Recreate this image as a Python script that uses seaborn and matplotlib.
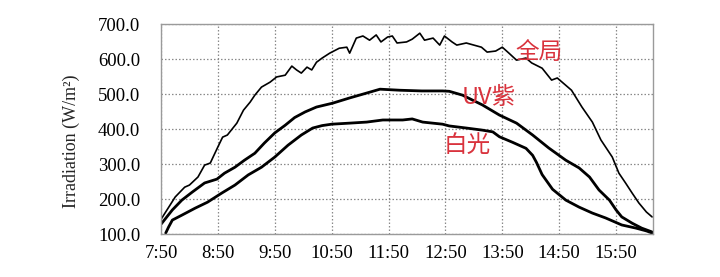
import matplotlib
matplotlib.use('Agg')
import matplotlib.pyplot as plt
import seaborn as sns

# ---- data (minutes after 7:50, irradiation W/m2) ----
full_t = [0, 15, 25, 30, 39, 46, 52, 60, 65, 70, 80, 87, 94, 99, 106, 115, 122, 131, 138, 143, 148,
          154, 159, 164, 170, 178, 188, 196, 199, 206, 213, 220, 227, 232, 239, 244, 249, 259, 265,
          273, 278, 287, 294, 299, 307, 312, 322, 338, 344, 353, 360, 367, 375, 385, 391, 402, 412,
          418, 433, 444, 455, 464, 476, 483, 490, 497, 504, 512, 518]
full_v = [142, 206, 234, 240, 263, 297, 303, 349, 377, 383, 417, 454, 477, 497, 520, 534, 549, 554,
          580, 569, 560, 577, 569, 591, 603, 617, 631, 634, 617, 660, 666, 654, 669, 649, 663, 666,
          646, 649, 657, 674, 654, 660, 640, 666, 649, 640, 646, 634, 620, 623, 634, 617, 597, 603,
          589, 574, 540, 546, 511, 463, 420, 369, 320, 274, 246, 217, 189, 163, 149]

uv_t = [0, 12, 22, 33, 46, 59, 67, 78, 88, 99, 109, 120, 131, 141, 152, 164, 181, 199, 217, 231,
        252, 275, 297, 304, 318, 339, 357, 375, 392, 409, 427, 441, 452, 462, 473, 480, 486, 497,
        507, 518]
uv_v = [128, 169, 197, 220, 246, 257, 274, 291, 311, 331, 360, 389, 411, 433, 449, 463, 474, 489,
        503, 514, 511, 509, 509, 508, 497, 469, 440, 417, 383, 346, 311, 289, 263, 226, 197, 169,
        149, 131, 117, 106]

white_t = [5, 8, 12, 22, 36, 49, 64, 78, 92, 106, 120, 134, 148, 160, 170, 180, 199, 217, 234, 255,
           265, 276, 297, 304, 322, 339, 350, 357, 371, 385, 392, 396, 402, 413, 427, 441, 455, 469,
           486, 501, 512, 518]
white_v = [103, 120, 140, 154, 174, 191, 217, 240, 269, 291, 320, 354, 383, 403, 410, 414, 417, 420,
           426, 426, 429, 420, 414, 409, 403, 397, 392, 378, 362, 345, 325, 305, 270, 228, 197, 177,
           160, 146, 126, 117, 109, 103]

x_ticks = [0, 60, 120, 180, 240, 300, 360, 420, 480]
x_labels = ["7:50", "8:50", "9:50", "10:50", "11:50", "12:50", "13:50", "14:50", "15:50"]
y_ticks = [100, 200, 300, 400, 500, 600, 700]
y_labels = ["100.0", "200.0", "300.0", "400.0", "500.0", "600.0", "700.0"]

series_names = ["全局", "UV紫", "白光"]
label_pos = [(399, 618), (346, 491), (323, 352)]

sns.set_theme(style='white')
plt.rcParams['font.family'] = ['Liberation Serif', 'DejaVu Serif']

fig, ax = plt.subplots(figsize=(7.2, 2.77), dpi=100)
fig.subplots_adjust(left=0.2236, right=0.907, bottom=0.155, top=0.913)

sns.lineplot(x=full_t, y=full_v, ax=ax, color='black', lw=1.2, estimator=None, sort=False)
sns.lineplot(x=uv_t, y=uv_v, ax=ax, color='black', lw=2.0, estimator=None, sort=False)
sns.lineplot(x=white_t, y=white_v, ax=ax, color='black', lw=2.0, estimator=None, sort=False)

ax.set_xlim(0, 519)
ax.set_ylim(100, 700)
ax.set_xticks(x_ticks)
ax.set_xticklabels(x_labels)
ax.set_yticks(y_ticks)
ax.set_yticklabels(y_labels)
ax.tick_params(axis='both', length=0, labelsize=13.5, colors='black')
ax.tick_params(axis='y', pad=15)
ax.tick_params(axis='x', pad=8)

ax.grid(True, linestyle=(0, (1.2, 1.6)), color='#8a8a8a', lw=0.9)
for sp in ax.spines.values():
    sp.set_color('#9a9a9a')
    sp.set_linewidth(1.0)

ax.set_ylabel('Irradiation (W/m²)', fontsize=13)
ax.yaxis.set_label_coords(-0.165, 0.443)

for name, (tx, ty) in zip(series_names, label_pos):
    ax.text(tx, ty, name, color='#d9333d', fontsize=17, ha='center', va='center',
            family=['Noto Sans CJK SC', 'DejaVu Sans'])

fig.savefig('out.png', dpi=100)
